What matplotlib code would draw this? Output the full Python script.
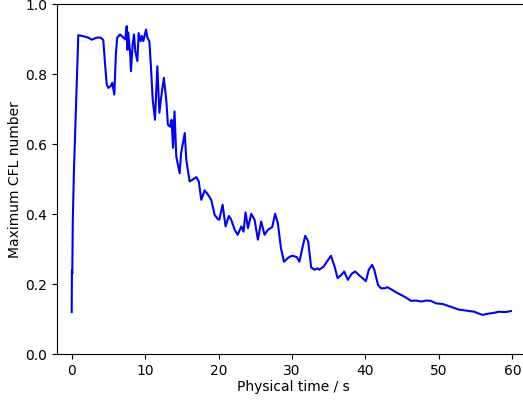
import matplotlib
matplotlib.use("Agg")
import matplotlib.pyplot as plt

# Simulation time (s) and the maximum CFL number recorded at each step
time_s = [
    0.0, 0.03, 0.08, 0.15, 0.3, 0.45, 0.68, 0.9, 1.58, 2.26, 2.72, 3.4, 3.95,
    4.3, 4.53, 4.77, 4.99, 5.3, 5.53, 5.8, 6.03, 6.2, 6.58, 7.03, 7.3, 7.49,
    7.6, 7.7, 7.94, 8.07, 8.3, 8.48, 8.66, 8.94, 9.12, 9.39, 9.55, 9.75,
    10.12, 10.3, 10.57, 10.76, 11.03, 11.34, 11.66, 11.94, 12.2, 12.55, 12.9,
    13.1, 13.4, 13.6, 13.8, 14.0, 14.24, 14.7, 14.9, 15.4, 15.6, 16.05,
    16.5, 16.96, 17.3, 17.64, 18.1, 18.55, 19.0, 19.46, 19.9, 20.1, 20.55,
    20.95, 21.4, 21.7, 22.2, 22.6, 23.1, 23.4, 23.67, 24.0, 24.45, 24.9,
    25.35, 25.8, 26.26, 26.7, 27.3, 27.7, 28.07, 28.5, 28.9, 29.4, 29.75,
    30.1, 30.65, 31.0, 31.5, 31.8, 32.2, 32.6, 33.06, 33.5, 33.7, 34.3,
    34.9, 35.3, 35.8, 36.2, 36.7, 37.1, 37.6, 38.1, 38.6, 39.2, 39.6, 40.05,
    40.45, 40.9, 41.2, 41.7, 42.1, 42.6, 43.0, 43.5, 44.3, 45.3, 46.2, 46.9,
    47.6, 48.3, 48.9, 49.6, 50.5, 51.5, 52.7, 53.7, 54.8, 55.5, 55.96, 56.6,
    57.55, 58.2, 58.9, 59.4, 59.8,
]
max_cfl = [
    0.12, 0.24, 0.23, 0.38, 0.52, 0.62, 0.77, 0.912, 0.909, 0.905, 0.899,
    0.905, 0.905, 0.898, 0.833, 0.771, 0.761, 0.766, 0.776, 0.742, 0.862,
    0.905, 0.914, 0.905, 0.9, 0.938, 0.87, 0.92, 0.866, 0.809, 0.885, 0.914,
    0.866, 0.838, 0.918, 0.895, 0.91, 0.895, 0.928, 0.905, 0.895, 0.833,
    0.728, 0.67, 0.823, 0.69, 0.737, 0.79, 0.72, 0.656, 0.65, 0.67, 0.59,
    0.694, 0.565, 0.517, 0.575, 0.632, 0.556, 0.494, 0.499, 0.506, 0.494,
    0.441, 0.468, 0.456, 0.441, 0.398, 0.386, 0.384, 0.427, 0.365, 0.395,
    0.385, 0.355, 0.341, 0.365, 0.35, 0.405, 0.36, 0.401, 0.384, 0.327,
    0.379, 0.341, 0.355, 0.363, 0.401, 0.374, 0.302, 0.264, 0.274, 0.279,
    0.281, 0.277, 0.264, 0.312, 0.338, 0.322, 0.248, 0.241, 0.245, 0.241,
    0.25, 0.269, 0.281, 0.25, 0.217, 0.226, 0.236, 0.212, 0.229, 0.236,
    0.224, 0.217, 0.208, 0.241, 0.255, 0.241, 0.198, 0.188, 0.188, 0.191,
    0.185, 0.175, 0.164, 0.152, 0.153, 0.15, 0.153, 0.152, 0.145, 0.143,
    0.136, 0.127, 0.124, 0.121, 0.115, 0.112, 0.115, 0.118, 0.121, 0.12,
    0.121, 0.123,
]

fig = plt.figure(figsize=(5.23, 4.01), dpi=100)
ax = fig.add_axes([57 / 523, 47 / 401, 473 / 523, 349.6 / 401])

ax.plot(time_s, max_cfl, color="blue", linewidth=1.5)

ax.set_xlim(-2, 62.4)
ax.set_ylim(0.0, 1.0)
ax.set_xticks([0, 10, 20, 30, 40, 50, 60])
ax.set_yticks([0.0, 0.2, 0.4, 0.6, 0.8, 1.0])
ax.set_xlabel("Physical time / s", labelpad=2)
ax.set_ylabel("Maximum CFL number", labelpad=2)

fig.savefig("out.png", dpi=100)
